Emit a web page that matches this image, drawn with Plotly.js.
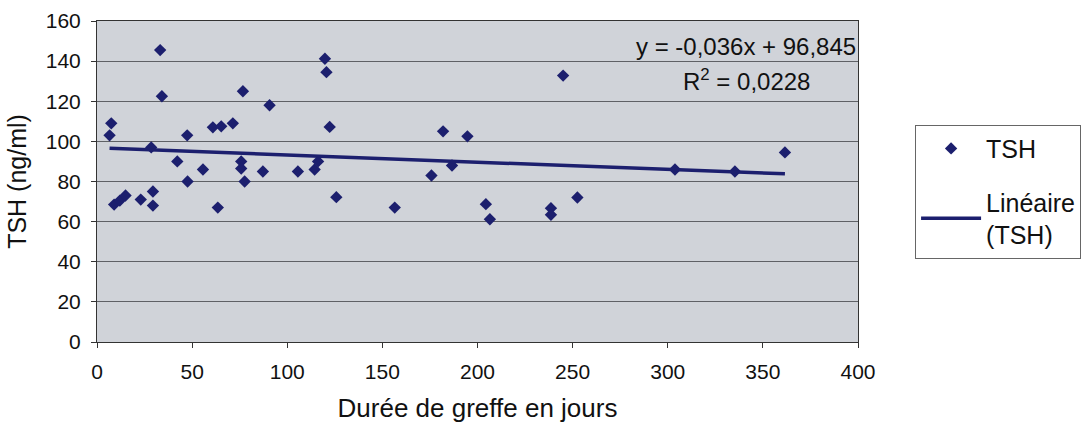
<!DOCTYPE html>
<html>
<head>
<meta charset="utf-8">
<script src="https://cdn.plot.ly/plotly-3.0.1.min.js"></script>
<style>
  html, body { margin: 0; padding: 0; background: #fff; }
  #plotly-div { width: 1085px; height: 427px; }
</style>
</head>
<body>
<div id="plotly-div"></div>
<script>
// durée de greffe (jours) and TSH (ng/ml)
var dureeJours = [6.6, 7.5, 9, 12, 15, 23, 28.5, 29.4, 29.4, 33.2, 34.1, 42.2, 47.4, 47.6,
  55.7, 60.9, 63.5, 65.3, 71.4, 76.7, 75.8, 75.8, 77.6, 87.2, 90.7, 105.6, 114.4, 116.2,
  119.8, 120.6, 122.3, 125.8, 156.5, 175.8, 181.9, 186.6, 194.7, 204.4, 206.5, 238.6,
  238.6, 245, 252.5, 303.8, 335.3, 361.6];
var tsh = [103, 109, 68.5, 70.5, 73, 71, 97, 75, 68, 145.5, 122.5, 90, 103, 80,
  86, 107, 67, 107.5, 109, 125, 90, 86.5, 80, 85, 118, 85, 86, 90,
  141.2, 134.5, 107.2, 72.2, 67, 83, 105, 88, 102.5, 68.7, 61.2, 66.7,
  63.4, 132.8, 72, 86, 85, 94.5];

// trend line printed on the chart
var slope = -0.036;
var intercept = 96.845;
var eqText = 'y = -0,036x + 96,845';
var r2Text = 'R<sup>2</sup> = 0,0228';

var xTicks = [0, 50, 100, 150, 200, 250, 300, 350, 400];
var yTicks = [0, 20, 40, 60, 80, 100, 120, 140, 160];

var navy = '#1c1f6e';
var font = 'Liberation Sans, Arial, sans-serif';

var xMin = Math.min.apply(null, dureeJours);
var xMax = Math.max.apply(null, dureeJours);

var data = [
  {
    x: dureeJours, y: tsh, type: 'scatter', mode: 'markers', name: 'TSH',
    legendgroup: 'pts',
    marker: {symbol: 'diamond', size: 9.5, color: navy}
  },
  {
    x: [xMin, xMax], y: [slope * xMin + intercept, slope * xMax + intercept],
    type: 'scatter', mode: 'lines', name: 'Linéaire<br>(TSH)',
    legendgroup: 'trend',
    line: {color: navy, width: 3.5}
  }
];

var layout = {
  width: 1085, height: 427,
  margin: {l: 97, r: 227, t: 21, b: 85, autoexpand: false},
  paper_bgcolor: '#ffffff',
  plot_bgcolor: '#d0d3d9',
  font: {family: font, size: 21, color: '#111'},
  showlegend: true,
  xaxis: {
    range: [0, 400], tickvals: xTicks, showgrid: false, zeroline: false,
    showline: true, linecolor: '#333', linewidth: 1, mirror: true,
    ticks: 'outside', ticklen: 5, tickcolor: '#333', ticklabelstandoff: 6,
    title: {text: 'Durée de greffe en jours', font: {size: 26}, standoff: 16}
  },
  yaxis: {
    range: [0, 160], tickvals: yTicks, showgrid: true, gridcolor: '#5f6166', gridwidth: 1,
    zeroline: false, showline: true, linecolor: '#333', linewidth: 1, mirror: true,
    ticks: 'outside', ticklen: 5, tickcolor: '#333', ticklabelstandoff: 6,
    title: {text: 'TSH (ng/ml)', font: {size: 25}, standoff: 12}
  },
  legend: {
    x: 1.075, y: 0.677, xanchor: 'left', yanchor: 'top',
    bgcolor: '#ffffff', bordercolor: '#666', borderwidth: 1,
    font: {size: 25}, itemwidth: 60, tracegroupgap: 18
  },
  annotations: [
    {xref: 'paper', yref: 'paper', x: 0.853, y: 0.92, xanchor: 'center', yanchor: 'middle',
     text: eqText, showarrow: false, font: {size: 24}},
    {xref: 'paper', yref: 'paper', x: 0.853, y: 0.815, xanchor: 'center', yanchor: 'middle',
     text: r2Text, showarrow: false, font: {size: 24}}
  ]
};

Plotly.newPlot('plotly-div', data, layout, {displayModeBar: false, staticPlot: true});
</script>
</body>
</html>
